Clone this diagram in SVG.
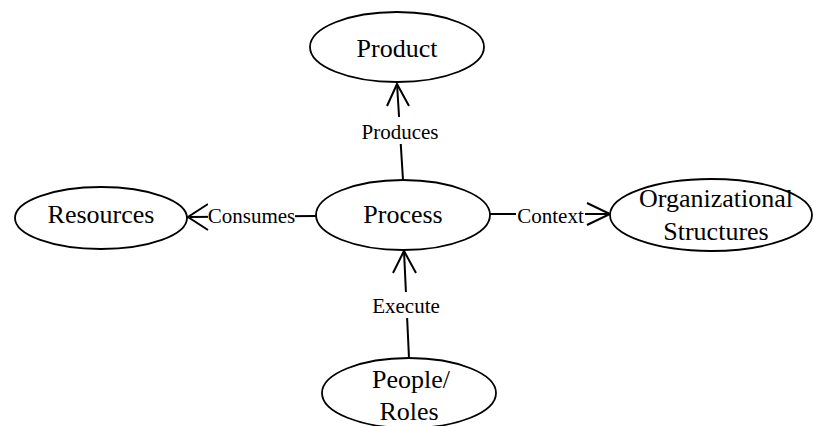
<svg xmlns="http://www.w3.org/2000/svg" width="814" height="426" viewBox="0 0 814 426">
  <style>
    .node ellipse { fill: #ffffff; stroke: #000000; stroke-width: 1.8; }
    .node text { font-family: "Liberation Serif", "Times New Roman", serif; font-size: 26px; fill: #000000; text-anchor: middle; }
    .edge line { stroke: #000000; stroke-width: 2; }
    .arrow { fill: none; stroke: #000000; stroke-width: 2; }
    .label rect { fill: #ffffff; stroke: none; }
    .label text { font-family: "Liberation Serif", "Times New Roman", serif; font-size: 21px; fill: #000000; text-anchor: middle; }
  </style>
  <rect x="0" y="0" width="814" height="426" fill="#ffffff"/>

  <g id="connectors">
    <!-- Process produces Product -->
    <g class="edge" id="edge-produces">
      <line x1="403" y1="180" x2="397" y2="84"/>
      <path class="arrow" d="M387,106 L397,84 L409,106"/>
      <g class="label"><rect x="360" y="117" width="80" height="27"/><text x="400" y="139">Produces</text></g>
    </g>
    <!-- Process consumes Resources -->
    <g class="edge" id="edge-consumes">
      <line x1="316" y1="216" x2="188" y2="217"/>
      <path class="arrow" d="M208,204 L188,217 L208,230"/>
      <g class="label"><rect x="208" y="203" width="87" height="26"/><text x="251.5" y="223">Consumes</text></g>
    </g>
    <!-- Process in context of Organizational Structures -->
    <g class="edge" id="edge-context">
      <line x1="490" y1="214" x2="610" y2="214"/>
      <path class="arrow" d="M587,203 L610,214 L587,225"/>
      <g class="label"><rect x="516" y="203" width="69" height="26"/><text x="550.5" y="223">Context</text></g>
    </g>
    <!-- People/Roles execute Process -->
    <g class="edge" id="edge-execute">
      <line x1="409" y1="358" x2="404" y2="251"/>
      <path class="arrow" d="M393,273 L404,251 L416,273"/>
      <g class="label"><rect x="370" y="292" width="72" height="26"/><text x="406" y="313">Execute</text></g>
    </g>
  </g>

  <g class="node" id="product">
    <ellipse cx="397" cy="47" rx="87" ry="35"/>
    <text x="397" y="57">Product</text>
  </g>
  <g class="node" id="resources">
    <ellipse cx="101" cy="218" rx="86" ry="31"/>
    <text x="101" y="223">Resources</text>
  </g>
  <g class="node" id="process">
    <ellipse cx="403" cy="215" rx="87" ry="35"/>
    <text x="403" y="223">Process</text>
  </g>
  <g class="node" id="organizational-structures">
    <ellipse cx="711" cy="215" rx="101" ry="36"/>
    <text x="716" y="207">Organizational</text>
    <text x="716" y="240">Structures</text>
  </g>
  <g class="node" id="people-roles">
    <ellipse cx="409" cy="393" rx="87" ry="35"/>
    <text x="411" y="388">People/</text>
    <text x="409" y="420">Roles</text>
  </g>
</svg>
